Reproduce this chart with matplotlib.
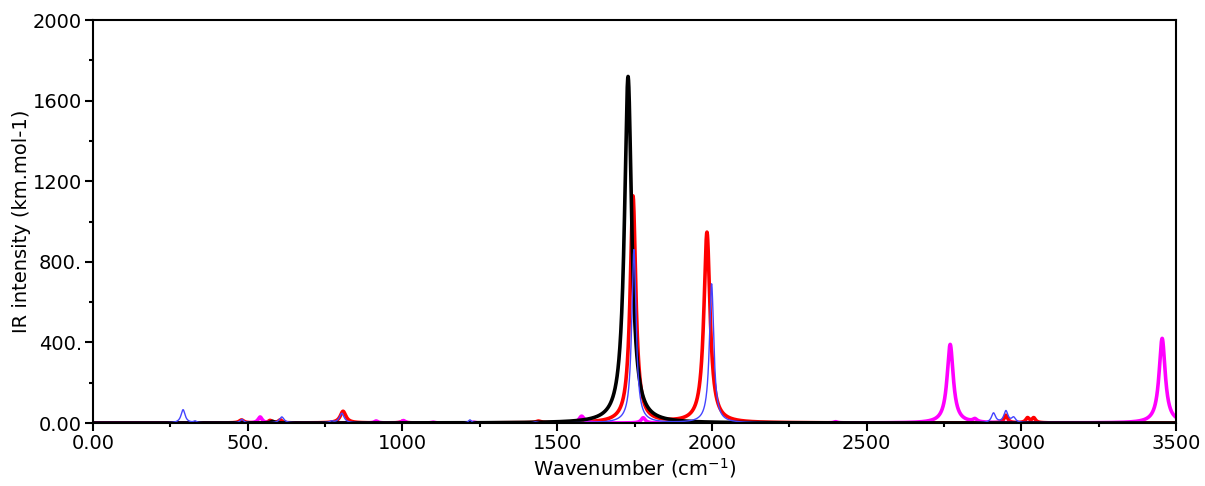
import numpy as np
import matplotlib
matplotlib.use("Agg")
import matplotlib.pyplot as plt
from matplotlib.ticker import FixedLocator, FixedFormatter, MultipleLocator

# peak lists: (wavenumber cm-1, height km/mol, fwhm)
black_pos = [580, 1729]
black_h = [8, 1720]
black_w = [15, 28]

red_pos = [480, 572, 605, 808, 1000, 1439, 1745, 1984, 2950, 3020, 3040]
red_h = [15, 12, 15, 58, 8, 8, 1125, 945, 38, 24, 24]
red_w = [18, 14, 14, 22, 14, 18, 22, 24, 14, 14, 14]

blue_pos = [291, 330, 481, 610, 771, 804, 1218, 1430, 1748, 1999, 2910, 2950, 2975]
blue_h = [66, 8, 18, 30, 8, 48, 15, 5, 860, 690, 48, 58, 25]
blue_w = [16, 12, 14, 18, 14, 18, 12, 14, 17, 17, 16, 16, 16]

mag_pos = [540, 915, 1003, 1099, 1230, 1579, 1778, 2400, 2770, 2850, 3455]
mag_h = [30, 10, 12, 4, 4, 34, 26, 6, 390, 14, 420]
mag_w = [16, 14, 14, 14, 14, 20, 16, 14, 24, 16, 24]

x_ticks = [0, 500, 1000, 1500, 2000, 2500, 3000, 3500]
x_labels = ["0.00", "500.", "1000", "1500", "2000", "2500", "3000", "3500"]
y_ticks = [0, 400, 800, 1200, 1600, 2000]
y_labels = ["0.00", "400.", "800.", "1200", "1600", "2000"]

x = np.linspace(0, 3500, 7001)


def spectrum(pos, h, w):
    s = np.zeros_like(x)
    for p, a, g in zip(pos, h, w):
        s += a * (g / 2) ** 2 / ((x - p) ** 2 + (g / 2) ** 2)
    return s


fig = plt.figure(figsize=(12.05, 4.86), dpi=100)
ax = fig.add_axes([0.0772, 0.1296, 0.8988, 0.8292])

ax.plot(x, spectrum(red_pos, red_h, red_w), color="#ff0000", lw=2.6)
ax.plot(x, spectrum(mag_pos, mag_h, mag_w), color="#ff00ff", lw=2.6)
ax.plot(x, spectrum(black_pos, black_h, black_w), color="black", lw=2.6)
ax.plot(x, spectrum(blue_pos, blue_h, blue_w), color="#4444ff", lw=1.0)

ax.set_xlim(0, 3500)
ax.set_ylim(0, 2000)
ax.xaxis.set_major_locator(FixedLocator(x_ticks))
ax.xaxis.set_major_formatter(FixedFormatter(x_labels))
ax.yaxis.set_major_locator(FixedLocator(y_ticks))
ax.yaxis.set_major_formatter(FixedFormatter(y_labels))
ax.xaxis.set_minor_locator(MultipleLocator(250))
ax.yaxis.set_minor_locator(MultipleLocator(200))
ax.tick_params(which="major", direction="out", length=6, width=1.5, labelsize=14, pad=2)
ax.tick_params(which="minor", direction="out", length=3, width=1.5)
for sp in ax.spines.values():
    sp.set_linewidth(1.5)

ax.set_xlabel("Wavenumber (cm$^{-1}$)", fontsize=14, labelpad=2)
ax.set_ylabel("IR intensity (km.mol-1)", fontsize=14)
ax.yaxis.set_label_coords(-0.057, 0.5)

fig.savefig("out.png", dpi=100)
